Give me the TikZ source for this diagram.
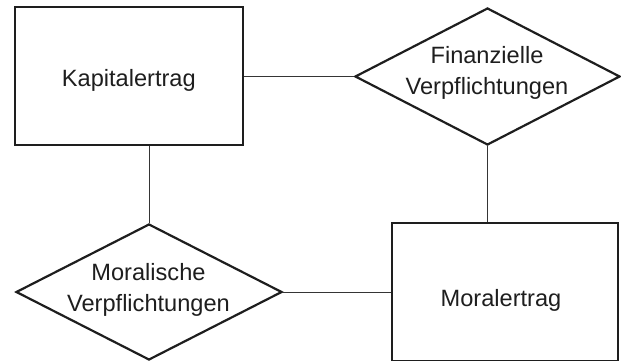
\documentclass[tikz,border=0pt]{standalone}
\usepackage{fontspec}
\setmainfont{Liberation Sans}
\usetikzlibrary{shapes.geometric}
\definecolor{ink}{HTML}{1e1e1e}
\tikzset{
  entity/.style={draw=ink, line width=2.2pt, rectangle, inner sep=0pt},
  relation/.style={draw=ink, line width=2.2pt, diamond, inner sep=0pt},
  lbl/.style={text=ink, inner sep=0pt, align=center, font=\fontsize{23.6}{31}\selectfont},
  conn/.style={draw=ink!90, line width=1pt}
}
\begin{document}
\begin{tikzpicture}[x=1pt,y=-1pt]
\useasboundingbox (0,0) rectangle (621,361);
\node[entity, minimum width=228pt, minimum height=138pt] (kap) at (129,76) {};
\node[relation, minimum width=265pt, minimum height=137pt] (fin) at (487.5,76.5) {};
\node[relation, minimum width=266pt, minimum height=136pt] (mor) at (149,292) {};
\node[entity, minimum width=226pt, minimum height=138pt] (morb) at (505,292) {};
\node[lbl, anchor=base] (kapt) at (128.8,86.7) {Kapitalertrag};
\node[lbl, anchor=base] (morbt) at (501,306.7) {Moralertrag};
\node[lbl] (fint) at (487,73) {Finanzielle\\Verpflichtungen};
\node[lbl] (mort) at (148.5,289.6) {Moralische\\Verpflichtungen};
\draw[conn] (fin.west) -- (fin.west -| kap.east);
\draw[conn] (mor.north) -- (mor.north |- kap.south);
\draw[conn] (fin.south) -- (fin.south |- morb.north);
\draw[conn] (mor.east) -- (mor.east -| morb.west);
\end{tikzpicture}
\end{document}
